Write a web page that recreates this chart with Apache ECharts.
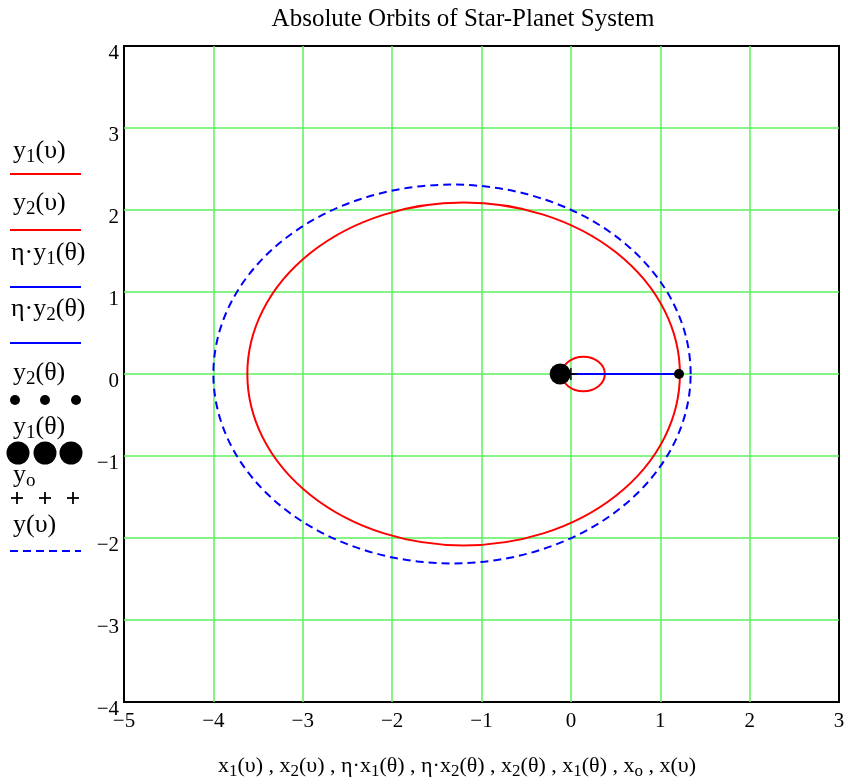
<!DOCTYPE html>
<html>
<head>
<meta charset="utf-8">
<script src="https://cdn.jsdelivr.net/npm/echarts@6/dist/echarts.min.js"></script>
<style>
  html, body { margin: 0; background: #fff; }
  #main { width: 848px; height: 784px; }
</style>
</head>
<body>
<div id="main"></div>
<script>
// axis ranges and tick step
const xRange = [-5, 3];
const yRange = [-4, 4];
const tickStep = 1;

// orbits: planet x1/y1(υ), star x2/y2(υ), relative x/y(υ)
const orbitNames = ['y1(υ)', 'y2(υ)', 'y(υ)'];
const orbitCenterX = [-1.20, 0.14, -1.33];
const orbitCenterY = [0, 0, 0];
const orbitSemiX = [2.42, 0.24, 2.67];
const orbitSemiY = [2.09, 0.21, 2.31];

// η·x1(θ) segment, current positions and origin
const etaX = [0, 1.21];
const etaY = [0, 0];
const planetNow = [1.21, 0];
const starNow = [-0.12, 0];
const origin = [0, 0];

const RED = '#ff0000';
const BLUE = '#0000ff';
const GREEN = '#5cf05c';
const FONT = 'Liberation Serif';

function tickText(v) {
  return v < 0 ? '\u2212' + (-v) : String(v);
}

function orbitSeries(i, color, dash) {
  return {
    name: orbitNames[i], type: 'custom', clip: false, z: 3,
    encode: { x: 0, y: 1 },
    data: [[orbitCenterX[i], orbitCenterY[i], orbitSemiX[i], orbitSemiY[i]]],
    renderItem: function (params, api) {
      const c = api.coord([api.value(0), api.value(1)]);
      const r = api.size([api.value(2), api.value(3)]);
      const rx = r[0], ry = r[1];
      const d = 'M' + (c[0] + rx) + ' ' + c[1] +
        ' A' + rx + ' ' + ry + ' 0 1 0 ' + (c[0] - rx) + ' ' + c[1] +
        ' A' + rx + ' ' + ry + ' 0 1 0 ' + (c[0] + rx) + ' ' + c[1] + ' Z';
      return {
        type: 'path', shape: { pathData: d },
        style: { fill: 'none', stroke: color, lineWidth: 2, lineDash: dash || null }
      };
    }
  };
}

const legendRich = {
  s: { fontFamily: FONT, fontSize: 19, padding: [12, 0, 0, 0], fill: '#000' }
};
const nameRich = {
  s: { fontFamily: FONT, fontSize: 17, padding: [11, 0, 0, 0], fill: '#000' }
};

function label(x, y, text) {
  return {
    type: 'text', x: x, y: y,
    style: { text: text, fontFamily: FONT, fontSize: 26, fill: '#000', rich: legendRich, verticalAlign: 'middle' }
  };
}
function hline(y, color, dash) {
  return {
    type: 'line', shape: { x1: 10, y1: y, x2: 81, y2: y },
    style: { stroke: color, lineWidth: 2, lineDash: dash || null }
  };
}
function dot(x, y, r) {
  return { type: 'circle', shape: { cx: x, cy: y, r: r }, style: { fill: '#000' } };
}
function plus(x, y) {
  return [
    { type: 'line', shape: { x1: x - 6, y1: y, x2: x + 6, y2: y }, style: { stroke: '#000', lineWidth: 1.8 } },
    { type: 'line', shape: { x1: x, y1: y - 6, x2: x, y2: y + 6 }, style: { stroke: '#000', lineWidth: 1.8 } }
  ];
}

const graphics = [
  {
    type: 'text', x: 463, y: 19,
    style: { text: 'Absolute Orbits of Star-Planet System', fontFamily: FONT, fontSize: 25, fill: '#000', align: 'center', verticalAlign: 'middle' }
  },
  {
    type: 'text', x: 457, y: 766,
    style: {
      text: 'x{s|1}(υ) , x{s|2}(υ) , η·x{s|1}(θ) , η·x{s|2}(θ) , x{s|2}(θ) , x{s|1}(θ) , x{s|o} , x(υ)',
      fontFamily: FONT, fontSize: 22, fill: '#000', rich: nameRich, align: 'center', verticalAlign: 'middle'
    }
  },
  label(13, 151, 'y{s|1}(υ)'), hline(174, RED),
  label(13, 203, 'y{s|2}(υ)'), hline(230, RED),
  label(11, 253, 'η·y{s|1}(θ)'), hline(287, BLUE),
  label(11, 309, 'η·y{s|2}(θ)'), hline(343, BLUE),
  label(13, 373, 'y{s|2}(θ)'), dot(15, 400, 5), dot(45, 400, 5), dot(76, 400, 5),
  label(13, 427, 'y{s|1}(θ)'), dot(18, 453, 11.5), dot(45, 453, 11.5), dot(71, 453, 11.5),
  label(13, 475, 'y{s|o}'), ...plus(17, 498), ...plus(45, 498), ...plus(73, 498),
  label(13, 525, 'y(υ)'), hline(551, BLUE, [8, 5])
];

const option = {
  animation: false,
  backgroundColor: '#fff',
  grid: {
    left: 124, top: 46, width: 715, height: 656,
    show: true, borderColor: '#000', borderWidth: 2, backgroundColor: 'transparent'
  },
  xAxis: {
    type: 'value', min: xRange[0], max: xRange[1], interval: tickStep,
    axisLine: { show: false }, axisTick: { show: false },
    axisLabel: { formatter: tickText, color: '#000', fontFamily: FONT, fontSize: 21, margin: 9 },
    splitLine: { show: true, showMinLine: false, showMaxLine: false, lineStyle: { color: GREEN, width: 1.5 } }
  },
  yAxis: {
    type: 'value', min: yRange[0], max: yRange[1], interval: tickStep,
    axisLine: { show: false }, axisTick: { show: false },
    axisLabel: { formatter: tickText, color: '#000', fontFamily: FONT, fontSize: 21, margin: 5, verticalAlign: 'top', lineHeight: 14 },
    splitLine: { show: true, showMinLine: false, showMaxLine: false, lineStyle: { color: GREEN, width: 1.5 } }
  },
  graphic: graphics,
  series: [
    orbitSeries(0, RED),
    orbitSeries(1, RED),
    {
      name: 'η·y1(θ)', type: 'line', data: etaX.map((x, i) => [x, etaY[i]]), showSymbol: false,
      lineStyle: { color: BLUE, width: 2 }, z: 4
    },
    orbitSeries(2, BLUE, [8, 5]),
    {
      name: 'y2(θ)', type: 'scatter', data: [planetNow], symbolSize: 10,
      itemStyle: { color: '#000', opacity: 1 }, z: 5
    },
    {
      name: 'y1(θ)', type: 'scatter', data: [starNow], symbolSize: 21,
      itemStyle: { color: '#000', opacity: 1 }, z: 5
    },
    {
      name: 'yo', type: 'scatter', data: [origin], symbol: 'path://M0,4.4H10V5.6H0Z M4.4,0H5.6V10H4.4Z', symbolSize: 12,
      itemStyle: { color: '#000', opacity: 1 }, z: 6
    }
  ]
};

const chart = echarts.init(document.getElementById('main'));
chart.setOption(option);
</script>
</body>
</html>
